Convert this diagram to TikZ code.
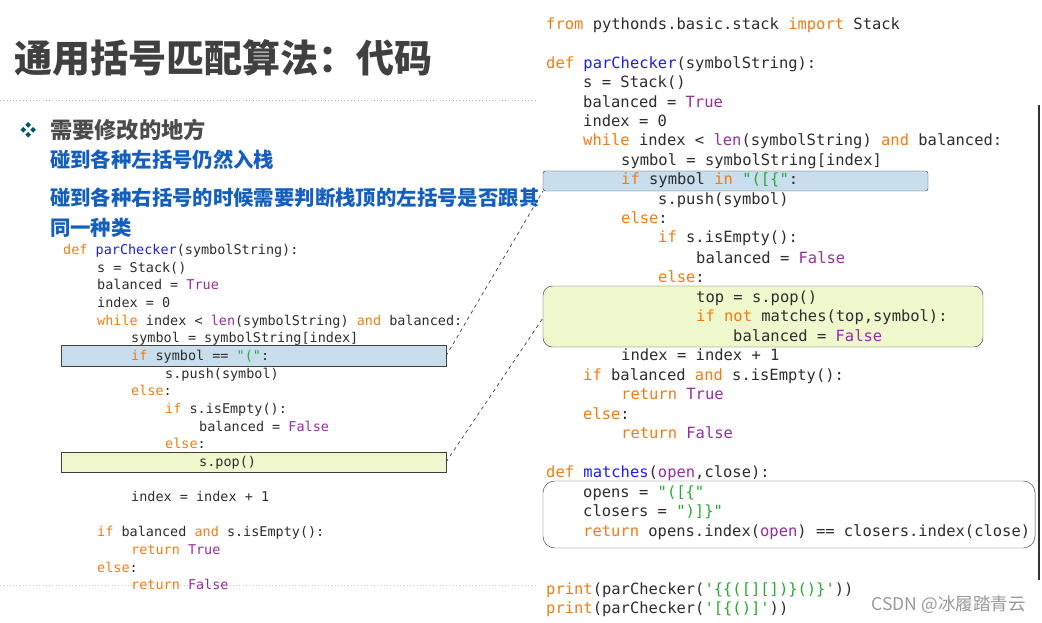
\documentclass[tikz,border=0pt]{standalone}
\usepackage{fontspec}
\setmainfont{Noto Sans CJK SC}
\newfontfamily\codefont{DejaVu Sans Mono}
\usetikzlibrary{positioning}
\definecolor{kwc}{RGB}{240,125,20}
\definecolor{fnc}{RGB}{30,30,230}
\definecolor{bic}{RGB}{150,45,160}
\definecolor{stc}{RGB}{40,170,50}
\definecolor{txc}{RGB}{45,45,45}
\definecolor{bluebox}{RGB}{200,222,236}
\definecolor{greenbox}{RGB}{238,248,204}
\definecolor{tipblue}{RGB}{20,95,190}
\newcommand\kw[1]{\textcolor{kwc}{#1}}
\newcommand\fn[1]{\textcolor{fnc}{#1}}
\newcommand\bi[1]{\textcolor{bic}{#1}}
\newcommand\st[1]{\textcolor{stc}{#1}}
\tikzset{
  rcode/.style={anchor=base west,inner sep=0pt,text=txc,font=\codefont\fontsize{13.2}{14}\selectfont},
  lcode/.style={anchor=base west,inner sep=0pt,text=txc,font=\codefont\fontsize{11.5}{12}\selectfont},
  tip/.style={anchor=west,text=tipblue,font=\bfseries\fontsize{17.4}{18}\selectfont},
  hl/.style={draw=black!75,thin},
}
\begin{document}
\begin{tikzpicture}[x=0.03cm,y=-0.03cm]
  \useasboundingbox (0,0) rectangle (1042,623);
  % title and notes
  \node[anchor=west,text=black!75,font=\bfseries\fontsize{32.5}{34}\selectfont] (title) at (10,58) {通用括号匹配算法：代码};
  \draw[black!30,dotted,thick] (0,100) -- (540,100);
  \draw[black!20,dotted,thick] (0,585) -- (540,585);
  \node[anchor=west,text=teal!70!black,font=\fontsize{14}{14}\selectfont] (bullet) at (16,130) {\char"2756};
  \node[anchor=west,text=black!70,font=\bfseries\fontsize{19}{20}\selectfont] (need) at (46,130) {需要修改的地方};
  \node[tip] (tipa) at (46,160) {碰到各种左括号仍然入栈};
  \node[tip] (tipb) at (46,198) {碰到各种右括号的时候需要判断栈顶的左括号是否跟其同};
  \node[tip] (tipc) at (46,228) {同一种类};
  % left boxes
  \draw[hl,fill=bluebox] (61,345) rectangle (446,366);
  \draw[hl,fill=greenbox] (61,452) rectangle (446,472);
  \coordinate (lblue) at (446,356);
  \coordinate (lgreen) at (446,462);
  % left code
  \node[lcode] (l1) at (63,254) {\kw{def} \fn{parChecker}(symbolString):};
  \node[lcode] (l2) at (97,272) {s = Stack()};
  \node[lcode] (l3) at (97,289) {balanced = \bi{True}};
  \node[lcode] (l4) at (97,307) {index = 0};
  \node[lcode] (l5) at (97,325) {\kw{while} index < \bi{len}(symbolString) \kw{and} balanced:};
  \node[lcode] (l6) at (131,342) {symbol = symbolString[index]};
  \node[lcode] (l7) at (131,360) {\kw{if} symbol == \st{"("}:};
  \node[lcode] (l8) at (165,378) {s.push(symbol)};
  \node[lcode] (l9) at (131,395) {\kw{else}:};
  \node[lcode] (l10) at (165,413) {\kw{if} s.isEmpty():};
  \node[lcode] (l11) at (199,431) {balanced = \bi{False}};
  \node[lcode] (l12) at (165,448) {\kw{else}:};
  \node[lcode] (l13) at (199,466) {s.pop()};
  \node[lcode] (l14) at (131,501) {index = index + 1};
  \node[lcode] (l15) at (97,536) {\kw{if} balanced \kw{and} s.isEmpty():};
  \node[lcode] (l16) at (131,554) {\kw{return} \bi{True}};
  \node[lcode] (l17) at (97,572) {\kw{else}:};
  \node[lcode] (l18) at (131,589) {\kw{return} \bi{False}};
  % right panel
  \fill[white] (538,0) rectangle (1042,623);
  \draw[black!80,line width=2pt] (1039,105) -- (1039,580);
  \draw[hl,fill=bluebox,rounded corners=2pt] (543,171) rectangle (928,191);
  \draw[hl,fill=greenbox,rounded corners=8pt] (543,286) rectangle (983,347);
  \draw[hl,fill=white,rounded corners=10pt] (543,481) rectangle (1035,548);
  \coordinate (rblue) at (543,191);
  \coordinate (rgreen) at (543,318);
  \draw[black!75,dashed,semithick] (lblue) -- (rblue);
  \draw[black!75,dashed,semithick] (lgreen) -- (rgreen);
  % right code
  \node[rcode] (r1) at (546,30) {\kw{from} pythonds.basic.stack \kw{import} Stack};
  \node[rcode] (r2) at (546,69) {\kw{def} \fn{parChecker}(symbolString):};
  \node[rcode] (r3) at (583,88) {s = Stack()};
  \node[rcode] (r4) at (583,108) {balanced = \bi{True}};
  \node[rcode] (r5) at (583,127) {index = 0};
  \node[rcode] (r6) at (583,146) {\kw{while} index < \bi{len}(symbolString) \kw{and} balanced:};
  \node[rcode] (r7) at (621,166) {symbol = symbolString[index]};
  \node[rcode] (r8) at (621,185) {\kw{if} symbol \kw{in} \st{"([\{"}:};
  \node[rcode] (r9) at (658,205) {s.push(symbol)};
  \node[rcode] (r10) at (621,224) {\kw{else}:};
  \node[rcode] (r11) at (658,243) {\kw{if} s.isEmpty():};
  \node[rcode] (r12) at (696,263) {balanced = \bi{False}};
  \node[rcode] (r13) at (658,282) {\kw{else}:};
  \node[rcode] (r14) at (696,302) {top = s.pop()};
  \node[rcode] (r15) at (696,321) {\kw{if} \kw{not} matches(top,symbol):};
  \node[rcode] (r16) at (733,341) {balanced = \bi{False}};
  \node[rcode] (r17) at (621,360) {index = index + 1};
  \node[rcode] (r18) at (583,380) {\kw{if} balanced \kw{and} s.isEmpty():};
  \node[rcode] (r19) at (621,399) {\kw{return} \bi{True}};
  \node[rcode] (r20) at (583,419) {\kw{else}:};
  \node[rcode] (r21) at (621,438) {\kw{return} \bi{False}};
  \node[rcode] (r22) at (546,477) {\kw{def} \fn{matches}(\bi{open},close):};
  \node[rcode] (r23) at (583,497) {opens = \st{"([\{"}};
  \node[rcode] (r24) at (583,516) {closers = \st{")]\}"}};
  \node[rcode] (r25) at (583,536) {\kw{return} opens.index(\bi{open}) == closers.index(close)};
  \node[rcode] (r26) at (546,594) {\kw{print}(parChecker(\st{'\{\{([][])\}()\}'}))};
  \node[rcode] (r27) at (546,613) {\kw{print}(parChecker(\st{'[\{()]'}))};
  \node[anchor=east,text=black!40,font=\fontsize{15}{16}\selectfont] (mark) at (1030,605) {CSDN @冰履踏青云};
\end{tikzpicture}
\end{document}
